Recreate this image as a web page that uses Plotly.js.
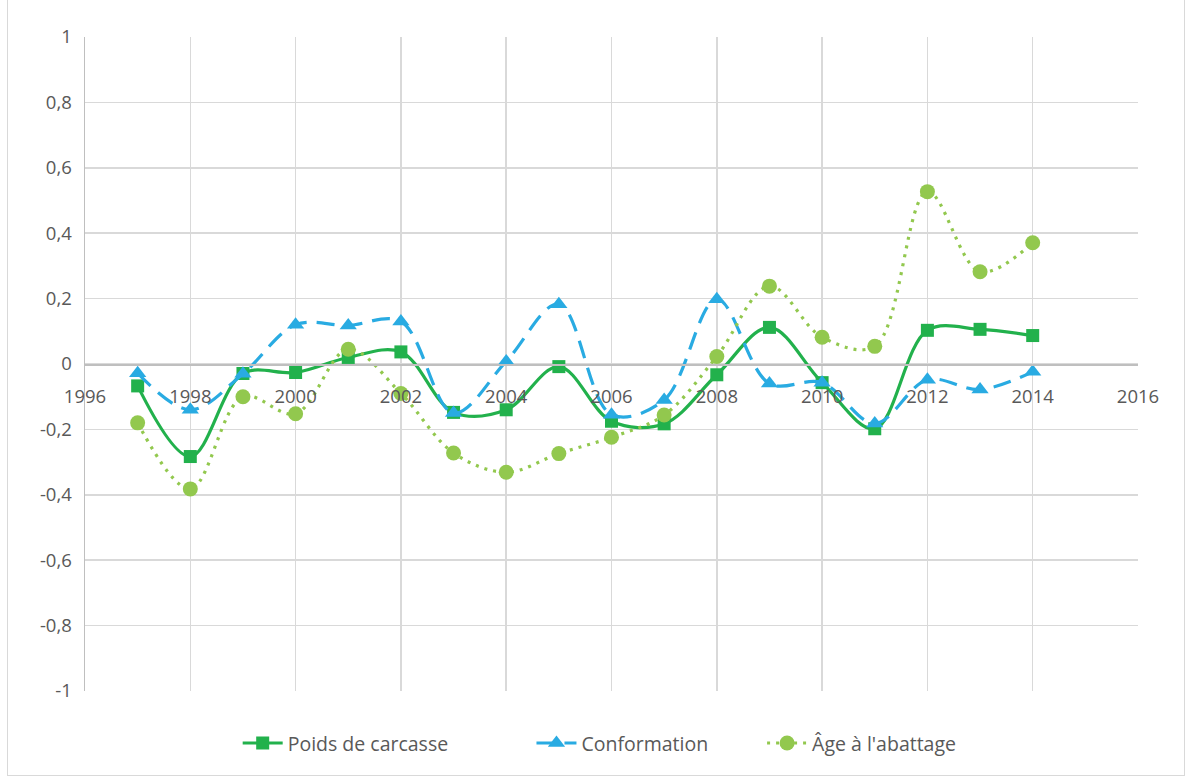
<!DOCTYPE html>
<html>
<head>
<meta charset="utf-8">
<script src="https://cdn.plot.ly/plotly-3.0.1.min.js"></script>
<style>
  html, body { margin: 0; padding: 0; background: #fff; }
  #frame { position: absolute; left: 7px; top: -1px; width: 1178px; height: 777px; border: 1px solid #d9d9d9; box-sizing: border-box; }
  #chart { position: absolute; left: 0; top: 0; width: 1187px; height: 778px; }
</style>
</head>
<body>
<div id="frame"></div>
<div id="chart"></div>
<script>
const years = [1997, 1998, 1999, 2000, 2001, 2002, 2003, 2004, 2005, 2006, 2007, 2008, 2009, 2010, 2011, 2012, 2013, 2014];
const poidsCarcasse = [-0.067, -0.283, -0.029, -0.026, 0.020, 0.037, -0.148, -0.140, -0.008, -0.175, -0.183, -0.033, 0.112, -0.057, -0.198, 0.103, 0.106, 0.087];
const conformation = [-0.028, -0.140, -0.030, 0.120, 0.118, 0.130, -0.150, 0.008, 0.183, -0.155, -0.110, 0.198, -0.060, -0.057, -0.182, -0.048, -0.078, -0.024];
const ageAbattage = [-0.180, -0.382, -0.100, -0.152, 0.045, -0.090, -0.272, -0.331, -0.274, -0.224, -0.156, 0.023, 0.238, 0.082, 0.054, 0.527, 0.282, 0.371];

const seriesNames = ["Poids de carcasse", "Conformation", "Âge à l'abattage"];
const yTickVals = [1, 0.8, 0.6, 0.4, 0.2, 0, -0.2, -0.4, -0.6, -0.8, -1];
const yTickText = ["1", "0,8", "0,6", "0,4", "0,2", "0", "-0,2", "-0,4", "-0,6", "-0,8", "-1"];
const xTickVals = [1996, 1998, 2000, 2002, 2004, 2006, 2008, 2010, 2012, 2014, 2016];
const xTickText = ["1996", "1998", "2000", "2002", "2004", "2006", "2008", "2010", "2012", "2014", "2016"];

const FONT = "'Open Sans', 'Liberation Sans', sans-serif";
const TXT = "#595959";

const traces = [
  {
    x: years, y: poidsCarcasse, name: seriesNames[0], type: "scatter", mode: "lines+markers", legend: "legend",
    line: { color: "#22b14c", width: 3.2, shape: "spline", smoothing: 1 },
    marker: { symbol: "square", size: 13, color: "#22b14c" }
  },
  {
    x: years, y: conformation, name: seriesNames[1], type: "scatter", mode: "lines+markers", legend: "legend2",
    line: { color: "#29abe2", width: 3.2, shape: "spline", smoothing: 1, dash: "18px,10px" },
    marker: { symbol: "triangle-up", size: 15, color: "#29abe2" }
  },
  {
    x: years, y: ageAbattage, name: seriesNames[2], type: "scatter", mode: "lines+markers", legend: "legend3",
    line: { color: "#92c84e", width: 3.2, shape: "spline", smoothing: 1, dash: "3px,6px" },
    marker: { symbol: "circle", size: 15, color: "#92c84e" }
  }
];

function leg(x) {
  return {
    orientation: "h", x: x, xanchor: "left", y: -0.08, yanchor: "middle",
    font: { family: FONT, size: 19.5, color: TXT }, itemwidth: 40, bgcolor: "rgba(0,0,0,0)"
  };
}

const layout = {
  width: 1187, height: 778,
  paper_bgcolor: "rgba(0,0,0,0)", plot_bgcolor: "rgba(0,0,0,0)",
  margin: { l: 85, r: 49, t: 37, b: 87 },
  font: { family: FONT, size: 18, color: TXT },
  showlegend: true,
  legend: leg(0.145),
  legend2: leg(0.424),
  legend3: leg(0.643),
  xaxis: {
    range: [1996, 2016], tickvals: xTickVals, ticktext: xTickText,
    showgrid: true, gridcolor: "#d9d9d9", gridwidth: 1.5,
    zeroline: false, showline: true, linecolor: "#bfbfbf", linewidth: 1.5,
    anchor: "free", position: 0.5, ticks: "", ticklabelstandoff: 15,
    tickfont: { family: FONT, size: 18.5, color: TXT }
  },
  yaxis: {
    range: [-1, 1], tickvals: yTickVals, ticktext: yTickText,
    showgrid: true, gridcolor: "#d9d9d9", gridwidth: 1.5,
    zeroline: false, showline: true, linecolor: "#bfbfbf", linewidth: 1.5,
    ticks: "", ticklabelstandoff: 8,
    tickfont: { family: FONT, size: 18.5, color: TXT }
  }
};

Plotly.newPlot("chart", traces, layout, { displayModeBar: false, staticPlot: true });
</script>
</body>
</html>
